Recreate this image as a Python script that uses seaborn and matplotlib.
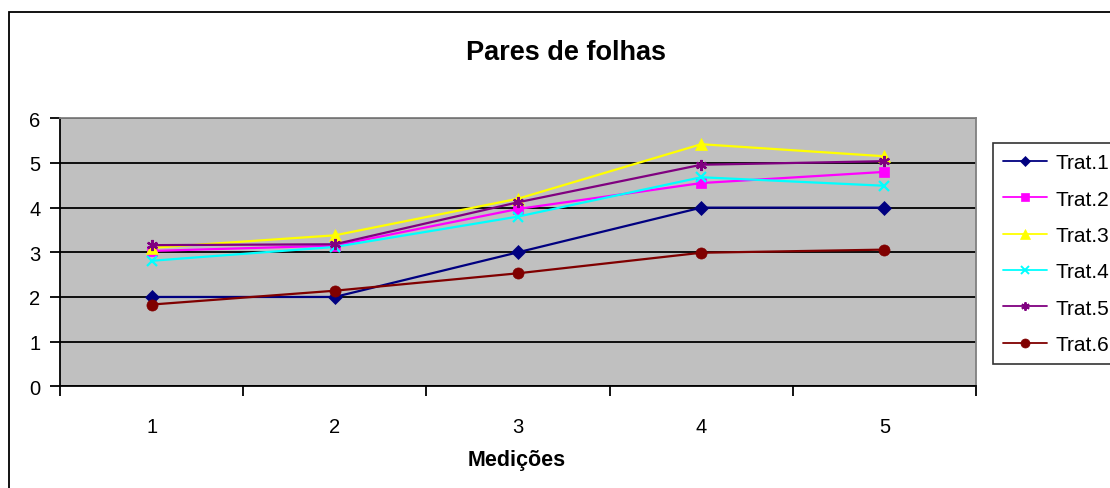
import matplotlib
matplotlib.use("Agg")
import matplotlib.pyplot as plt
from matplotlib.patches import Rectangle
from matplotlib.lines import Line2D
import seaborn as sns
import pandas as pd

# Leaf-pair counts per measurement for each treatment
medicoes = ["1", "2", "3", "4", "5"]
trat1 = [2.00, 2.00, 3.00, 4.00, 4.00]
trat2 = [3.03, 3.15, 3.97, 4.55, 4.80]
trat3 = [3.10, 3.38, 4.20, 5.42, 5.15]
trat4 = [2.81, 3.12, 3.80, 4.68, 4.49]
trat5 = [3.16, 3.18, 4.12, 4.96, 5.04]
trat6 = [1.83, 2.14, 2.53, 2.99, 3.06]

series_names = ["Trat.1", "Trat.2", "Trat.3", "Trat.4", "Trat.5", "Trat.6"]
series_values = [trat1, trat2, trat3, trat4, trat5, trat6]
colors = ["#000080", "#FF00FF", "#FFFF00", "#00FFFF", "#800080", "#800000"]
markers = ["D", "s", "^", "x", (6, 2, 0), "o"]
msizes = [7, 7, 8.5, 7, 8, 8]
leg_msizes = [5.5, 6, 7, 6, 6, 6.5]

sns.set_theme(style="white")
plt.rcParams["font.family"] = ["Liberation Sans", "DejaVu Sans"]
for key in ("text.color", "axes.labelcolor", "xtick.color", "ytick.color"):
    plt.rcParams[key] = "black"

fig = plt.figure(figsize=(11.10, 4.89), dpi=100)
fig.patch.set_facecolor("white")

# outer chart frame
fig.patches.append(Rectangle((9 / 1110, -0.05), 1.2, 1 - 13 / 489 + 0.05,
                             transform=fig.transFigure, fill=False,
                             edgecolor="black", linewidth=1.3, zorder=0))

ax = fig.add_axes([60 / 1110, 1 - 387.3 / 489, 916 / 1110, 268 / 489])
ax.set_facecolor("#C0C0C0")

rows = []
for name, vals in zip(series_names, series_values):
    for i, v in enumerate(vals):
        rows.append({"pos": i, "valor": v, "serie": name})
df = pd.DataFrame(rows)

for name, color, mk, ms in zip(series_names, colors, markers, msizes):
    sub = df[df["serie"] == name]
    unfilled = mk == "x" or isinstance(mk, tuple)
    sns.lineplot(data=sub, x="pos", y="valor", ax=ax, color=color,
                 marker=mk, markersize=ms, markeredgecolor=color,
                 markerfacecolor=color, markeredgewidth=1.6 if unfilled else 0.5,
                 linewidth=1.6, legend=False, zorder=3)

ax.set_xlim(-0.5, len(medicoes) - 0.5)
ax.set_ylim(0, 6)
ax.set_yticks(range(0, 7))
ax.yaxis.grid(True, color="black", linewidth=1.3)
ax.set_axisbelow(True)

# category boundaries carry the tick marks, labels sit at the category centres
ax.set_xticks([i - 0.5 for i in range(len(medicoes) + 1)])
ax.set_xticklabels([])
ax.set_xticks(range(len(medicoes)), minor=True)
ax.set_xticklabels(medicoes, minor=True)
ax.tick_params(axis="x", which="major", direction="out", length=7, width=1.3,
               color="black", bottom=True)
ax.tick_params(axis="x", which="minor", length=0, pad=22, labelsize=14.5)
ax.tick_params(axis="y", direction="out", length=7, width=1.3, color="black",
               left=True, pad=7, labelsize=14.5)

for side in ("left", "bottom"):
    ax.spines[side].set_color("black")
    ax.spines[side].set_linewidth(1.3)
for side in ("top", "right"):
    ax.spines[side].set_color("#808080")
    ax.spines[side].set_linewidth(1.3)

ax.set_xlabel("")
ax.set_ylabel("")
fig.text(517 / 1110, 1 - 461 / 489, "Medições", ha="center", va="center",
         fontsize=15.5, fontweight="bold")

fig.text(566 / 1110, 1 - 53 / 489, "Pares de folhas", ha="center", va="center",
         fontsize=19.5, fontweight="bold")

handles = [Line2D([], [], color=c, marker=m, markersize=s, markeredgecolor=c,
                  markerfacecolor=c, linewidth=1.3,
                  markeredgewidth=1.4 if m == "x" or isinstance(m, tuple) else 0.5)
           for c, m, s in zip(colors, markers, leg_msizes)]
leg = fig.legend(handles, series_names, loc="upper left",
                 bbox_to_anchor=(993 / 1110, 1 - 144 / 489),
                 frameon=True, fancybox=False, fontsize=15,
                 handlelength=2.1, handletextpad=0.4, labelspacing=0.83,
                 borderpad=0.5, borderaxespad=0)
leg.get_frame().set_edgecolor("black")
leg.get_frame().set_linewidth(1.2)
leg.get_frame().set_facecolor("white")

fig.savefig("out.png", dpi=100, facecolor="white")
